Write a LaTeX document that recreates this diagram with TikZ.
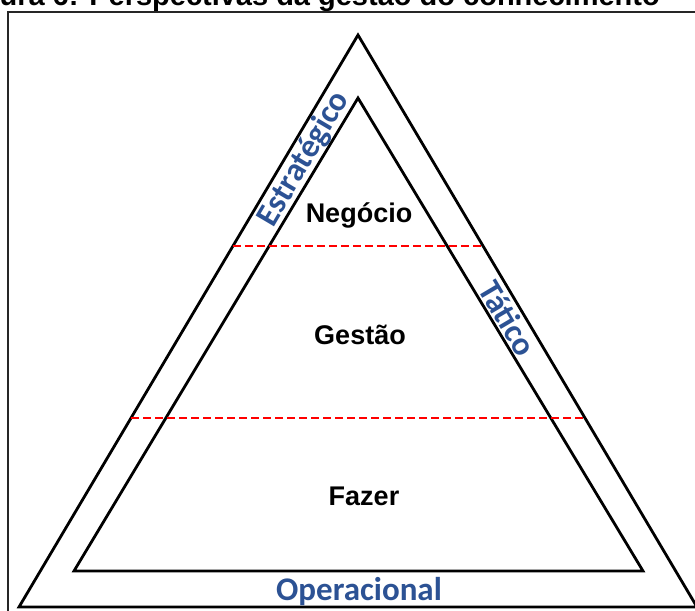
\documentclass[tikz,border=0pt]{standalone}
\usepackage{fontspec}
\setmainfont{Liberation Sans}
\newfontfamily\tierfont{Carlito}
\usetikzlibrary{calc}
\definecolor{tierblue}{RGB}{44,82,148}
\begin{document}
\begin{tikzpicture}[x=1pt,y=-1pt,
  edge/.style={line width=2.8pt, line join=miter},
  cut/.style={red, line width=2pt, dash pattern=on 8pt off 4pt},
  level/.style={font=\bfseries\fontsize{27}{30}\selectfont, anchor=base, inner sep=0pt},
  tier/.style={font=\tierfont\bfseries\fontsize{33}{36}\selectfont, text=tierblue, inner sep=0pt}]
\useasboundingbox (0,0) rectangle (695,610);
\clip (0,0) rectangle (695,610);

% caption above the frame
\node[anchor=base east, font=\bfseries\fontsize{29}{32}\selectfont, inner sep=0pt]
  (title) at (660,6) {Figura 6: Perspectivas da gestão do conhecimento};

% frame
\draw[line width=2.2pt, black!85] (8,12) rectangle (720,640);

% outer triangle
\coordinate (oA) at (358,35);
\coordinate (oL) at (19,607);
\coordinate (oR) at (697,607);
\draw[edge] (oA) -- (oL) -- (oR) -- cycle;

% inner triangle
\coordinate (iA) at (358,98);
\coordinate (iL) at (74,571);
\coordinate (iR) at (643,571);
\draw[edge] (iA) -- (iL) -- (iR) -- cycle;

% level separators
\coordinate (c1L) at ($(oA)!0.3689!(oL)$);
\coordinate (c1R) at ($(oA)!0.3689!(oR)$);
\coordinate (c2L) at ($(oA)!0.6696!(oL)$);
\coordinate (c2R) at ($(oA)!0.6696!(oR)$);
\draw[cut] (c1L) -- (c1R);
\draw[cut] (c2L) -- (c2R);

% level names
\node[level] (negocio) at (359,222) {Negócio};
\node[level] (gestao) at (360,344) {Gestão};
\node[level] (fazer) at (364,505) {Fazer};

% perspectives along the band
\node[tier, rotate=59.4] (estrategico) at (304,159) {Estratégico};
\node[tier, rotate=-59.4] (tatico) at (508,318) {Tático};
\node[tier, anchor=base] (operacional) at (359,600) {Operacional};
\end{tikzpicture}
\end{document}
